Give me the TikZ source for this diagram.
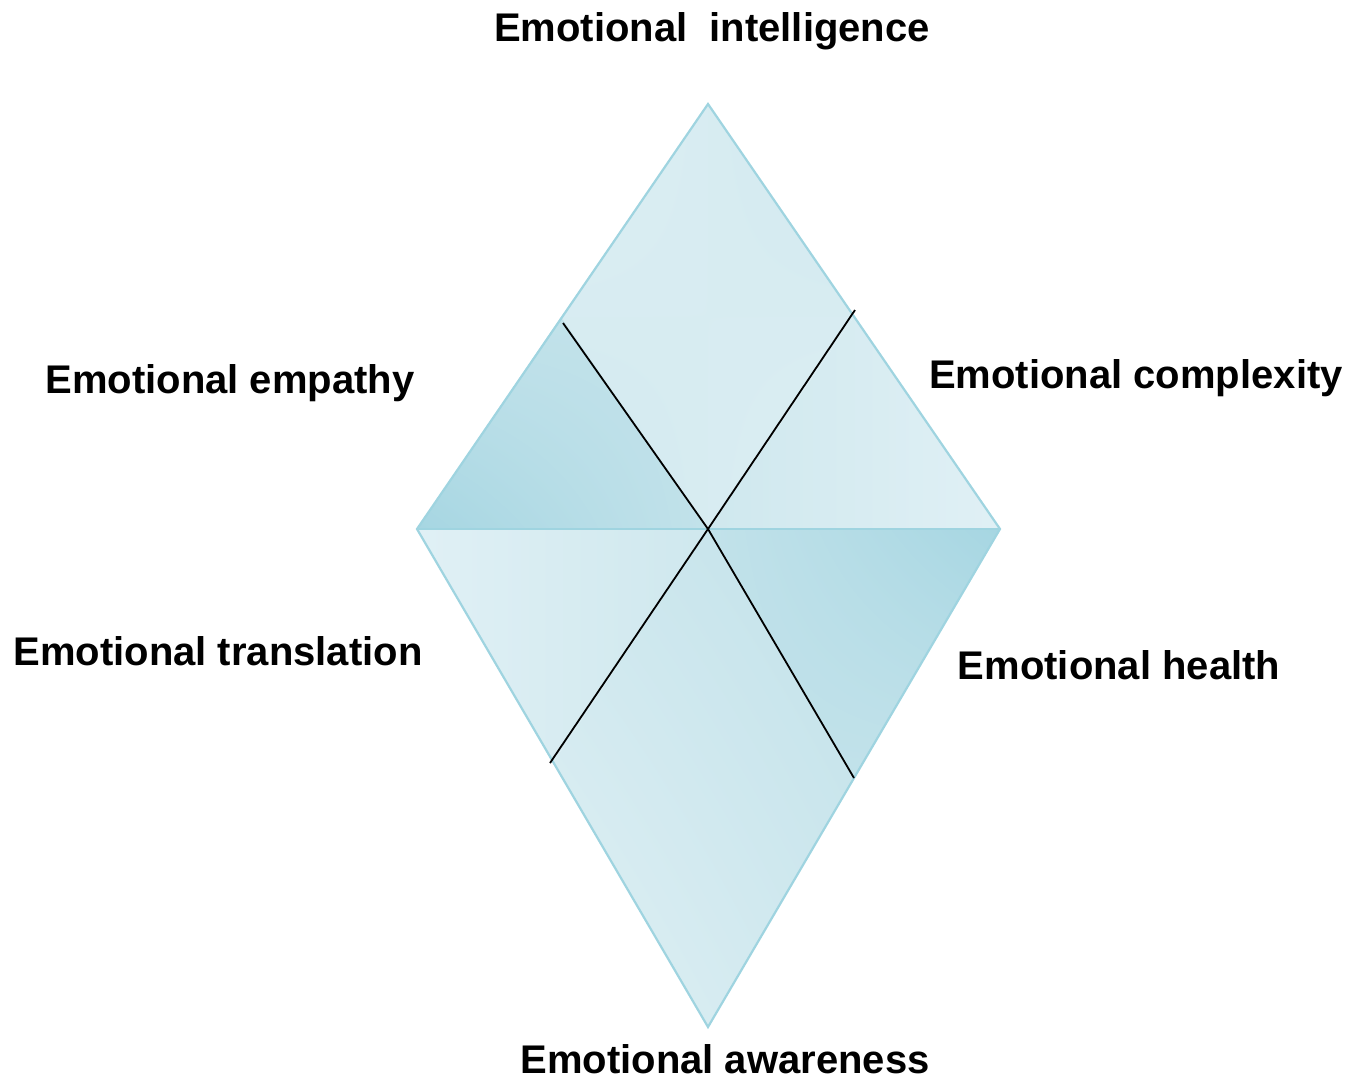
\documentclass[tikz,border=0pt]{standalone}
\usepackage{fontspec}
\setmainfont{Liberation Sans}
\usetikzlibrary{calc,positioning,shadings}

\definecolor{rimblue}{HTML}{9FD4E0}
\definecolor{paleblue}{HTML}{E0F0F5}
\definecolor{softblue}{HTML}{CFE8EE}
\definecolor{midblue}{HTML}{C2E2EA}
\definecolor{deepblue}{HTML}{A6D6E2}

\begin{document}
\begin{tikzpicture}[
	%	style def
	x=0.5pt, y=-0.5pt,
	rim line/.style={draw=rimblue, line width=1.1pt, line join=miter},
	cross line/.style={black, line width=0.9pt},
	label text/.style={font=\fontsize{20}{24}\selectfont\bfseries, anchor=base, inner sep=0pt}
	]
	\useasboundingbox (0,0) rectangle (1351,1083);

	% corners of the diamond and points on its edges
	\coordinate (top) at (708,104);
	\coordinate (lft) at (417,529);
	\coordinate (rgt) at (1000,529);
	\coordinate (bot) at (708,1027);
	\coordinate (ctr) at (708,529);
	\coordinate (mUL) at (561,317);
	\coordinate (mUR) at (854,317);
	\coordinate (mLL) at (553,763);
	\coordinate (mLR) at (854,778);

	% six shaded parts
	\shade[upper left=paleblue, upper right=softblue, lower left=softblue, lower right=paleblue]
		(top) -- (mUR) -- (ctr) -- (mUL) -- cycle;
	\shade[upper left=midblue, upper right=midblue, lower left=deepblue, lower right=midblue]
		(mUL) -- (ctr) -- (lft) -- cycle;
	\shade[upper left=softblue, upper right=paleblue, lower left=softblue, lower right=paleblue]
		(mUR) -- (rgt) -- (ctr) -- cycle;
	\shade[upper left=paleblue, upper right=softblue, lower left=paleblue, lower right=softblue]
		(lft) -- (ctr) -- (mLL) -- cycle;
	\shade[upper left=softblue, upper right=midblue, lower left=paleblue, lower right=softblue]
		(ctr) -- (mLR) -- (bot) -- (mLL) -- cycle;
	\shade[upper left=midblue, upper right=deepblue, lower left=midblue, lower right=midblue]
		(ctr) -- (rgt) -- (mLR) -- cycle;

	% outline
	\draw[rim line] (top) -- (rgt) -- (bot) -- (lft) -- cycle;
	\draw[rim line] (lft) -- (rgt);

	% crossing lines
	\draw[cross line] (563,323) coordinate (xUL) -- (ctr) -- (mLR);
	\draw[cross line] (855,310) coordinate (xUR) -- (ctr) -- (550,763) coordinate (xLL);

	% labels
	\node[label text] (intel) at (712,41) {Emotional\ \ intelligence};
	\node[label text] (empat) at (230,393) {Emotional empathy};
	\node[label text] (compl) at (1136,388) {Emotional complexity};
	\node[label text] (trans) at (218,665) {Emotional translation};
	\node[label text] (healt) at (1119,679) {Emotional health};
	\node[label text] (aware) at (725,1073) {Emotional awareness};
\end{tikzpicture}
\end{document}
